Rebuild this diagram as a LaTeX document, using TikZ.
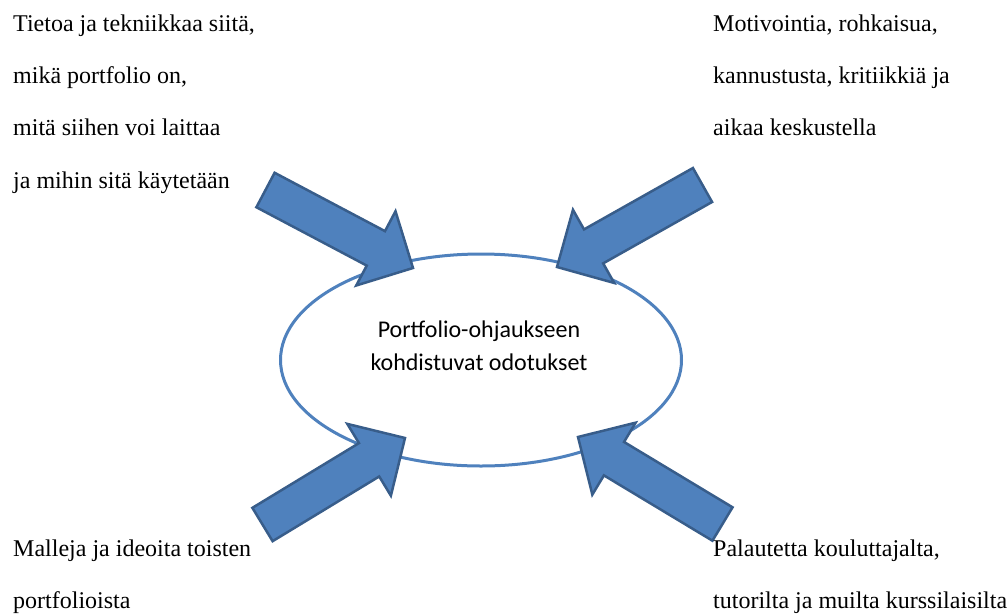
\documentclass[tikz,border=0pt]{standalone}
\usepackage{fontspec}
\setmainfont{Liberation Serif}
\newfontfamily\calibrifont{Carlito}
\usetikzlibrary{calc,shapes.geometric}
\definecolor{ofblue}{RGB}{79,129,189}
\definecolor{ofdark}{RGB}{56,93,138}
\tikzset{
  txtline/.style={anchor=base west,inner sep=0pt,font=\fontsize{24}{24}\selectfont},
  blockarr/.style={fill=ofblue,draw=ofdark,line width=2.5pt,line join=miter}
}
% block arrow from tail #1 to tip #2
\newcommand\blockarrow[2]{%
  \coordinate (hb) at ($(#2)!\hlen!(#1)$);
  \draw[blockarr] ($(#1)!\shaft!90:(#2)$) -- ($(hb)!\shaft!90:(#2)$)
    -- ($(hb)!\head!90:(#2)$) -- (#2) -- ($(hb)!\head!-90:(#2)$)
    -- ($(hb)!\shaft!-90:(#2)$) -- ($(#1)!\shaft!-90:(#2)$) -- cycle;}
\begin{document}
\begin{tikzpicture}[x=1pt,y=-1pt]
\useasboundingbox (0,0) rectangle (1007,614);
\def\shaft{19.5pt}
\def\head{42pt}
\def\hlen{42pt}
\def\lsep{52.4}

\node[draw=ofblue,line width=3pt,ellipse,minimum width=401pt,minimum height=212pt]
  (goal) at (481,360) {};
\node[align=center,font=\calibrifont\fontsize{24}{33}\selectfont] (goaltxt)
  at ($(goal.center)+(-2,-14)$) {Portfolio-ohjaukseen\\kohdistuvat odotukset};

\coordinate (tailA) at (265.5,190);  \coordinate (tipA) at (413,268);
\coordinate (tailB) at (702.5,185);  \coordinate (tipB) at (557,267);
\coordinate (tailC) at (262.5,524.5);\coordinate (tipC) at (405,438);
\coordinate (tailD) at (722.5,524);  \coordinate (tipD) at (578,437);
\blockarrow{tailA}{tipA}
\blockarrow{tailB}{tipB}
\blockarrow{tailC}{tipC}
\blockarrow{tailD}{tipD}

\foreach \t [count=\i] in {{Tietoa ja tekniikkaa siitä,},{mikä portfolio on,},
    {mitä siihen voi laittaa},{ja mihin sitä käytetään}}
  \node[txtline] (tl\i) at (13,{31+(\i-1)*\lsep}) {\t};
\foreach \t [count=\i] in {{Motivointia, rohkaisua,},{kannustusta, kritiikkiä ja},
    {aikaa keskustella}}
  \node[txtline] (tr\i) at (713,{31+(\i-1)*\lsep}) {\t};
\foreach \t [count=\i] in {{Malleja ja ideoita toisten},{portfolioista}}
  \node[txtline] (bl\i) at (13,{556+(\i-1)*\lsep}) {\t};
\foreach \t [count=\i] in {{Palautetta kouluttajalta,},{tutorilta ja muilta kurssilaisilta}}
  \node[txtline] (br\i) at (713,{556+(\i-1)*\lsep}) {\t};
\end{tikzpicture}
\end{document}
